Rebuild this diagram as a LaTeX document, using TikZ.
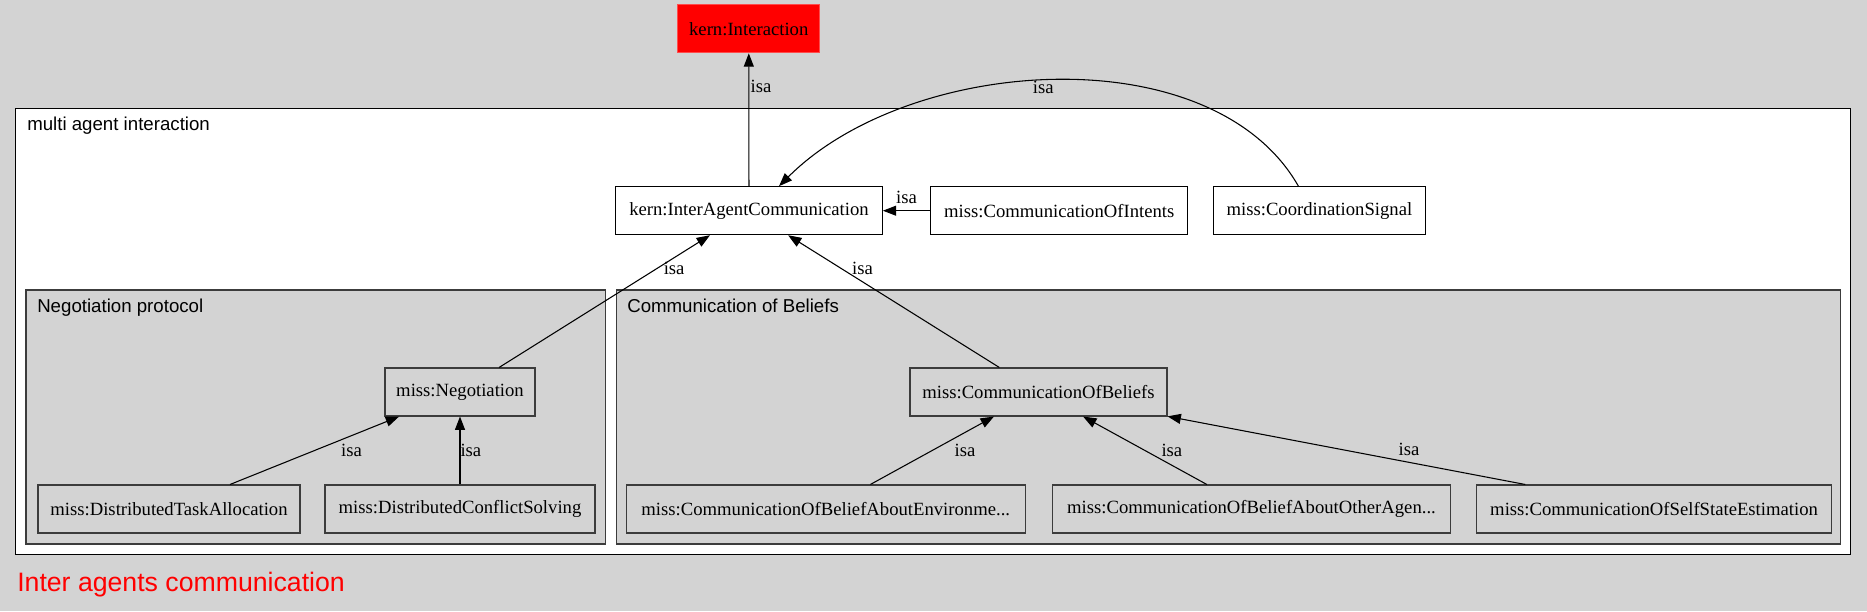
\documentclass[tikz,border=0pt]{standalone}
\usepackage{fontspec}
\setmainfont{Liberation Serif}
\newfontfamily\clusterfont{Liberation Sans}
\usetikzlibrary{positioning,arrows.meta}
\definecolor{bg}{HTML}{D3D3D3}
\definecolor{hot}{HTML}{FF0000}
\definecolor{rim}{HTML}{3C3C3C}
\newcommand{\clab}[1]{{\clusterfont\fontsize{14}{16}\selectfont #1}}

\begin{document}
\begin{tikzpicture}[x=0.75pt,y=-0.75pt,font=\fontsize{14}{16}\selectfont,
  concept/.style={draw=rim,line width=0.8pt,minimum height=36pt,inner sep=0pt},
  isa/.style={-{Triangle[length=10pt,width=7.5pt]},line width=0.8pt},
  lbl/.style={inner sep=0pt}]
% page and clusters
\fill[bg] (0,0) rectangle (1867,611);
\draw[fill=white,line width=0.8pt] (15.6,108.7) rectangle (1850.3,554.7);
\draw[fill=bg,draw=rim,line width=0.8pt] (26,290) rectangle (605.5,544);
\draw[fill=bg,draw=rim,line width=0.8pt] (616.5,290) rectangle (1840.5,544);
\node[anchor=base west,inner sep=0pt] (mai) at (27,130) {\clab{multi agent interaction}};
\node[anchor=base west,inner sep=0pt] (np) at (37,312.5) {\clab{Negotiation protocol}};
\node[anchor=base west,inner sep=0pt] (cb) at (627,312.5) {\clab{Communication of Beliefs}};
\node[anchor=base west,inner sep=0pt,text=hot] (title) at (17,591.7)
  {\clusterfont\fontsize{20}{24}\selectfont Inter agents communication};

% concepts
\node[concept,fill=hot,draw=hot!70!white,minimum width=106.5pt] (I) at (748.75,28.8) {kern:Interaction};
\node[concept,fill=white,draw=black,minimum width=200pt] (IAC) at (749,210.7) {kern:InterAgentCommunication};
\node[concept,fill=white,draw=black,minimum width=192.6pt,right=35.6pt of IAC] (COI) {miss:CommunicationOfIntents};
\node[concept,fill=white,draw=black,minimum width=159pt,right=18.5pt of COI] (CS) {miss:CoordinationSignal};

\node[concept,minimum width=112.5pt] (NEG) at (460,392) {miss:Negotiation};
\node[concept,minimum width=196.5pt] (DTA) at (169,509) {miss:DistributedTaskAllocation};
\node[concept,minimum width=202.5pt] (DCS) at (460,509) {miss:DistributedConflictSolving};

\node[concept,minimum width=192.75pt] (COB) at (1038.5,392) {miss:CommunicationOfBeliefs};
\node[concept,minimum width=299pt] (ENV) at (825.75,509) {miss:CommunicationOfBeliefAboutEnvironme...};
\node[concept,minimum width=299pt,right=19.5pt of ENV] (OTH) {miss:CommunicationOfBeliefAboutOtherAgen...};
\node[concept,minimum width=266.25pt,right=18.5pt of OTH] (SSE) {miss:CommunicationOfSelfStateEstimation};

% isa links
\draw[isa] (IAC) -- node[lbl,pos=.75,right=1pt] {isa} (I);
\draw[isa] (COI) -- node[lbl,above=5pt] {isa} (IAC);
\draw[isa] ([shift={(-21,0)}]CS.north) .. controls +(-86,-151) and +(131,-131) ..
  ([shift={(30,0)}]IAC.north) node[lbl,pos=.52,below=0pt] {isa};
\draw[isa] (NEG) -- node[lbl,pos=.75,right=4.5pt] {isa} (IAC);
\draw[isa] (COB) -- node[lbl,pos=.75,right=8pt] {isa} (IAC);
\draw[isa] (DTA) -- node[lbl,right=19.5pt] {isa} (NEG);
\draw[isa] (DCS) -- node[lbl,right=0pt] {isa} (NEG);
\draw[isa] (ENV) -- node[lbl,right=16.5pt] {isa} (COB);
\draw[isa] (OTH) -- node[lbl,right=12pt] {isa} (COB);
\draw[isa] (SSE) -- node[lbl,pos=.325,above=4.5pt] {isa} (COB);
\end{tikzpicture}
\end{document}
